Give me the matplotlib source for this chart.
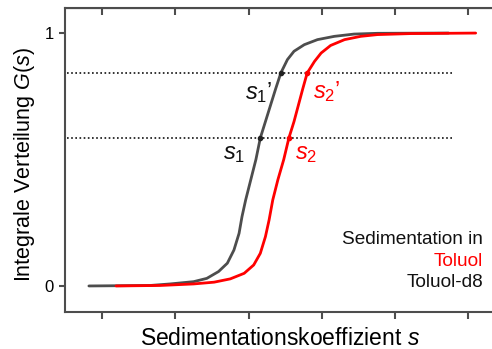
import matplotlib
matplotlib.use("Agg")
import matplotlib.pyplot as plt

plt.rcParams['font.family'] = ['Liberation Sans', 'DejaVu Sans']
plt.rcParams['mathtext.fontset'] = 'custom'
plt.rcParams['mathtext.rm'] = 'Liberation Sans'
plt.rcParams['mathtext.it'] = 'Liberation Sans:italic'

# integral distributions G(s), sampled along each curve
s_d8 = [-0.18, 0.66, 0.93, 1.25, 1.43, 1.59, 1.71, 1.80, 1.87, 1.91, 1.96,
        2.03, 2.10, 2.16, 2.23, 2.30, 2.37, 2.44, 2.53, 2.62, 2.76, 2.94,
        3.17, 3.44, 3.76, 4.73]
g_d8 = [0.0, 0.002, 0.008, 0.017, 0.030, 0.057, 0.090, 0.142, 0.208, 0.274, 0.34,
        0.42, 0.50, 0.585, 0.65, 0.715, 0.78, 0.842, 0.895, 0.928, 0.954, 0.974,
        0.987, 0.996, 0.999, 1.0]

s_tol = [0.19, 0.80, 1.25, 1.53, 1.75, 1.94, 2.07, 2.16, 2.23, 2.28, 2.33,
         2.40, 2.48, 2.55, 2.62, 2.68, 2.74, 2.80, 2.90, 2.99, 3.12, 3.31,
         3.53, 3.76, 4.22, 5.10]
g_tol = [0.0, 0.002, 0.008, 0.015, 0.028, 0.050, 0.083, 0.129, 0.195, 0.261, 0.34,
         0.42, 0.50, 0.585, 0.65, 0.715, 0.78, 0.842, 0.888, 0.921, 0.951, 0.974,
         0.987, 0.994, 0.998, 1.0]

# reference levels and the s values where each curve crosses them
levels = [0.585, 0.842]
cross_d8 = [2.16, 2.44]
cross_tol = [2.55, 2.80]

grey = '#4d4d4d'
red = '#ff0000'
ink = '#111111'

fig = plt.figure(figsize=(4.92, 3.49), dpi=100)
ax = fig.add_axes([0.132, 0.106, 0.875, 0.871])

for lv in levels:
    ax.plot([-0.48, 4.78], [lv, lv], color=ink, linestyle=(0, (1, 1.5)), lw=1.2)

ax.plot(s_d8, g_d8, color=grey, lw=2.0, solid_capstyle='round', solid_joinstyle='round')
ax.plot(s_tol, g_tol, color=red, lw=2.0, solid_capstyle='round', solid_joinstyle='round')
ax.plot(cross_d8, levels, 'o', color='#222222', ms=3)
ax.plot(cross_tol, levels, 'o', color=red, ms=3)

lab = dict(fontsize=17, ha='center', va='center')
ax.text(1.80, 0.52, r'$s_{\mathit{1}}$', color=ink, **lab)
ax.text(2.14, 0.765, r'$s_{\mathit{1}}$’', color=ink, **lab)
ax.text(2.78, 0.52, r'$s_{\mathit{2}}$', color=red, **lab)
ax.text(3.06, 0.77, r'$s_{\mathit{2}}$’', color=red, **lab)

leg = dict(fontsize=13.7, ha='right', va='center')
ax.text(5.20, 0.182, 'Sedimentation in', color=ink, **leg)
ax.text(5.20, 0.095, 'Toluol', color=red, **leg)
ax.text(5.20, 0.012, 'Toluol-d8', color=ink, **leg)

ax.set_xlim(-0.507, 5.37)
ax.set_ylim(-0.103, 1.099)
ax.set_xticks(range(6))
ax.set_xticklabels([])
ax.set_yticks([0, 1])
ax.set_yticklabels(['0', '1'], fontsize=12)
ax.tick_params(axis='x', which='both', direction='out', length=5, width=1.5, color=grey)
ax.tick_params(axis='y', direction='out', length=4, width=1.5, color=grey, pad=4)
ax.secondary_xaxis('top').tick_params(direction='in', length=5, width=1.5, color=grey,
                                      labeltop=False)

for side in ['left', 'bottom', 'top']:
    ax.spines[side].set_color(grey)
    ax.spines[side].set_linewidth(1.5)
ax.spines['right'].set_visible(False)

ax.set_xlabel(r'Sedimentationskoeffizient $\mathit{s}$', fontsize=16.5, labelpad=2)
ax.set_ylabel(r'Integrale Verteilung $\mathit{G}$($\mathit{s}$)', fontsize=15.5)
ax.yaxis.set_label_coords(-0.064, 0.485)

fig.savefig('out.png', dpi=100)
